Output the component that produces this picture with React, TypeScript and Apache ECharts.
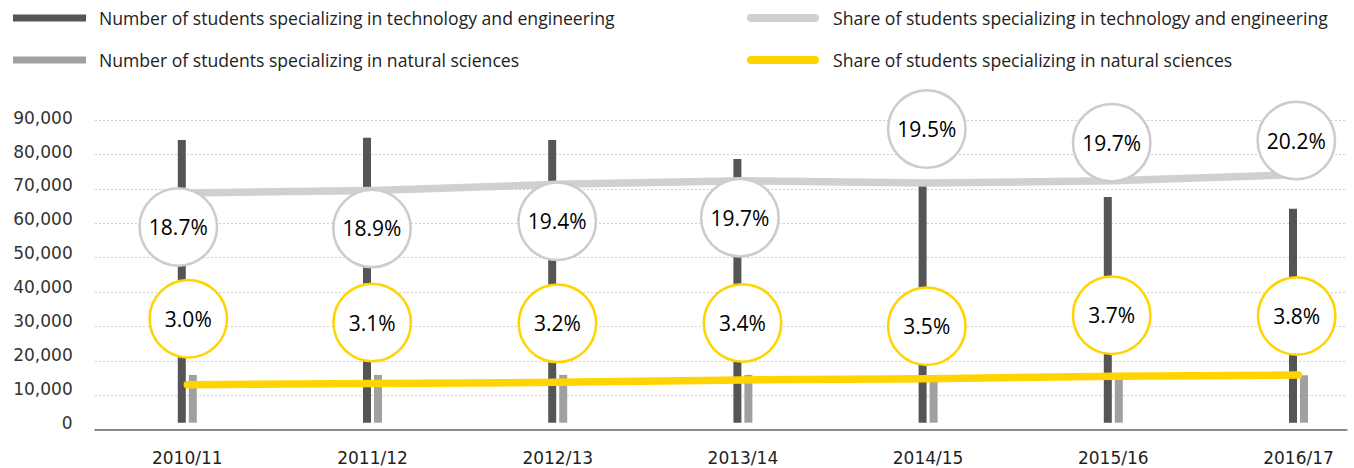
import React, { useEffect, useRef } from "react";
import * as echarts from "echarts";

const categories = ["2010/11", "2011/12", "2012/13", "2013/14", "2014/15", "2015/16", "2016/17"];
const techStudents = [83400, 84100, 83400, 77800, 71000, 66600, 63100];
const sciStudents = [14100, 14100, 14100, 14100, 13500, 14000, 14000];
const techShare = [18.7, 18.9, 19.4, 19.7, 19.5, 19.7, 20.2];
const sciShare = [3.0, 3.1, 3.2, 3.4, 3.5, 3.7, 3.8];
const yTicks = [0, 10000, 20000, 30000, 40000, 50000, 60000, 70000, 80000, 90000];

const seriesNames = {
  techNum: "Number of students specializing in technology and engineering",
  sciNum: "Number of students specializing in natural sciences",
  techShare: "Share of students specializing in technology and engineering",
  sciShare: "Share of students specializing in natural sciences",
};

// label (circle) offsets relative to the data point, in px (styling only)
const techLabelOffsets = [[-9, 34], [-0.5, 38], [-0.5, 37], [-3, 37], [-1.3, -54], [-1.6, -38], [-2.2, -34]];
const sciLabelOffsets = [[1, -66], [-0.3, -61], [-0.2, -59], [-0.4, -57], [-1.3, -52.4], [-1.6, -61], [-1.8, -59]];

const COLORS = {
  dark: "#555555",
  light: "#a0a0a0",
  grayLine: "#d0d0d0",
  yellow: "#ffd400",
  circleGray: "#cccccc",
};

const stadium = "path://M4,0 H68 A4,4 0 0 1 68,8 H4 A4,4 0 0 1 4,0 Z";

function circleLabel(border: string) {
  return {
    show: true,
    position: "inside",
    formatter: (p: any) => Number(p.value).toFixed(1) + "%",
    width: 75,
    height: 75,
    lineHeight: 75,
    borderRadius: 38,
    backgroundColor: "#ffffff",
    borderColor: border,
    borderWidth: 2.5,
    align: "center",
    verticalAlign: "middle",
    fontFamily: "Open Sans",
    fontSize: 21,
    fontWeight: 500,
    color: "#000000",
  };
}

export default function App() {
  const ref = useRef<HTMLDivElement>(null);
  useEffect(() => {
    if (!ref.current) return;
    const chart = echarts.init(ref.current, undefined, { renderer: "svg" });
    const legendText = {
      fontFamily: "Open Sans",
      fontSize: 17.6,
      color: "#222222",
      lineHeight: 20,
    };
    const option = {
      animation: false,
      backgroundColor: "#ffffff",
      legend: [
        {
          orient: "vertical",
          left: 8,
          top: 3,
          itemWidth: 73,
          itemHeight: 7,
          itemGap: 22,
          icon: "rect",
          textStyle: { ...legendText, padding: [0, 0, 0, 8] },
          data: [seriesNames.techNum, seriesNames.sciNum],
        },
        {
          orient: "vertical",
          left: 742,
          top: 3,
          itemWidth: 72,
          itemHeight: 8,
          itemGap: 22,
          textStyle: { ...legendText, padding: [0, 0, 0, 9] },
          data: [
            { name: seriesNames.techShare, icon: stadium, itemStyle: { color: COLORS.grayLine } },
            { name: seriesNames.sciShare, icon: stadium, itemStyle: { color: COLORS.yellow } },
          ],
        },
      ],
      grid: [
        { left: 187.3, right: 55.5, top: 117.7, bottom: 45.3 },
        { left: 95, right: 7, top: 120.3, bottom: 38.5 },
      ],
      xAxis: [
        {
          type: "category",
          gridIndex: 0,
          data: categories,
          boundaryGap: false,
          axisLine: { show: false },
          axisTick: { show: false },
          axisLabel: {
            margin: 27,
            fontFamily: "DejaVu Sans",
            fontSize: 17,
            color: "#222222",
          },
        },
        {
          type: "value",
          gridIndex: 1,
          min: 0,
          max: 1,
          axisLine: { show: true, lineStyle: { color: "#666666", width: 1.5 } },
          axisTick: { show: false },
          axisLabel: { show: false },
          splitLine: { show: false },
        },
      ],
      yAxis: [
        {
          type: "value",
          gridIndex: 0,
          min: 0,
          max: 90000,
          interval: 10000,
          axisLine: { show: false },
          axisTick: { show: false },
          splitLine: { show: false },
          axisLabel: {
            margin: 114.6,
            fontFamily: "DejaVu Sans",
            fontSize: 17,
            color: "#333333",
            formatter: (v: number) => (yTicks.includes(v) ? v.toLocaleString("en-US") : ""),
          },
        },
        {
          type: "value",
          gridIndex: 0,
          min: -0.1,
          max: 24.85,
          show: false,
          splitLine: { show: false },
        },
        {
          type: "value",
          gridIndex: 1,
          min: 0,
          max: 90000,
          interval: 10000,
          axisLine: { show: false },
          axisTick: { show: false },
          axisLabel: { show: false },
          splitLine: { show: true, lineStyle: { color: "#cfcfcf", type: [2, 2], width: 1 } },
        },
      ],
      series: [
        {
          name: seriesNames.techNum,
          type: "bar",
          xAxisIndex: 0,
          yAxisIndex: 0,
          data: techStudents,
          barWidth: 8,
          barGap: "37.5%",
          clip: false,
          itemStyle: { color: COLORS.dark },
          z: 2,
        },
        {
          name: seriesNames.sciNum,
          type: "bar",
          xAxisIndex: 0,
          yAxisIndex: 0,
          data: sciStudents,
          barWidth: 8,
          barGap: "37.5%",
          clip: false,
          itemStyle: { color: COLORS.light },
          z: 2,
        },
        {
          name: seriesNames.techShare,
          type: "line",
          xAxisIndex: 0,
          yAxisIndex: 1,
          symbol: "circle",
          symbolSize: 2,
          itemStyle: { color: COLORS.grayLine },
          lineStyle: { color: COLORS.grayLine, width: 7.5, cap: "round", join: "round" },
          label: circleLabel(COLORS.circleGray),
          data: techShare.map((v, i) => ({ value: v, label: { offset: techLabelOffsets[i] } })),
          z: 3,
        },
        {
          name: seriesNames.sciShare,
          type: "line",
          xAxisIndex: 0,
          yAxisIndex: 1,
          symbol: "circle",
          symbolSize: 2,
          itemStyle: { color: COLORS.yellow },
          lineStyle: { color: COLORS.yellow, width: 7.5, cap: "round", join: "round" },
          label: circleLabel(COLORS.yellow),
          data: sciShare.map((v, i) => ({ value: v, label: { offset: sciLabelOffsets[i] } })),
          z: 3,
        },
      ],
    };
    chart.setOption(option as any);
    return () => chart.dispose();
  }, []);
  return (
    <div
      ref={ref}
      style={{ position: "fixed", left: 0, top: 0, width: 1354, height: 468, background: "#fff" }}
    />
  );
}
